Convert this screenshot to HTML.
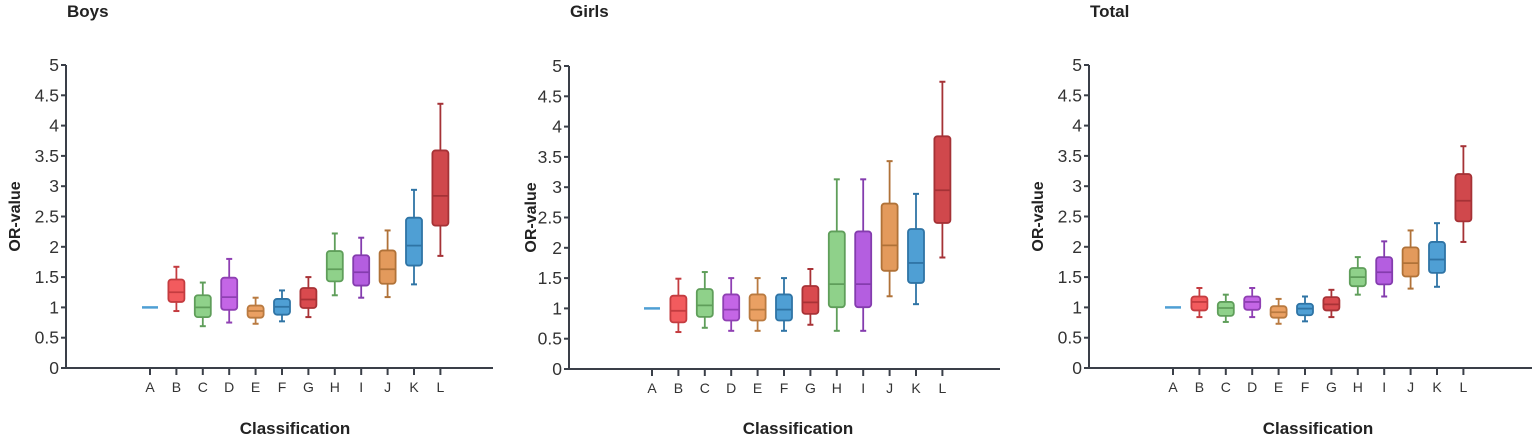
<!DOCTYPE html>
<html><head><meta charset="utf-8"><style>
html,body{margin:0;padding:0;background:#fff;}
svg{display:block;font-family:"Liberation Sans",Arial,sans-serif;}
</style></head><body>
<svg id="c" width="1535" height="440" viewBox="0 0 1535 440"></svg>
<script>
const categories=["A","B","C","D","E","F","G","H","I","J","K","L"];
const yTicks=[0,0.5,1,1.5,2,2.5,3,3.5,4,4.5,5];
const yTickLabels=["0","0.5","1","1.5","2","2.5","3","3.5","4","4.5","5"];
const panelTitles=["Boys","Girls","Total"];
// each entry: [max, q3, median, q1, min]
const boysData=[[1,1,1,1,1],[1.67,1.46,1.25,1.09,0.94],[1.41,1.2,1.0,0.84,0.69],[1.8,1.49,1.17,0.96,0.75],[1.16,1.03,0.94,0.83,0.73],[1.28,1.14,1.01,0.88,0.77],[1.5,1.32,1.13,0.99,0.84],[2.22,1.93,1.63,1.43,1.2],[2.15,1.86,1.58,1.36,1.16],[2.27,1.94,1.63,1.39,1.17],[2.94,2.48,2.02,1.69,1.38],[4.36,3.59,2.84,2.35,1.85]];
const girlsData=[[1,1,1,1,1],[1.49,1.21,0.96,0.77,0.61],[1.6,1.32,1.05,0.86,0.68],[1.5,1.23,0.98,0.8,0.63],[1.5,1.23,0.98,0.8,0.63],[1.5,1.23,0.98,0.8,0.63],[1.65,1.37,1.1,0.91,0.73],[3.13,2.27,1.4,1.02,0.63],[3.13,2.27,1.4,1.02,0.63],[3.43,2.73,2.04,1.62,1.2],[2.89,2.31,1.75,1.42,1.07],[4.74,3.84,2.95,2.41,1.84]];
const totalData=[[1,1,1,1,1],[1.32,1.18,1.09,0.95,0.84],[1.21,1.09,0.99,0.86,0.76],[1.32,1.18,1.09,0.96,0.84],[1.14,1.02,0.92,0.83,0.73],[1.18,1.06,0.98,0.87,0.77],[1.29,1.17,1.05,0.95,0.84],[1.83,1.65,1.5,1.35,1.21],[2.09,1.83,1.58,1.38,1.18],[2.27,1.99,1.73,1.51,1.31],[2.39,2.08,1.79,1.57,1.34],[3.66,3.2,2.76,2.42,2.08]];
const panelData=[boysData,girlsData,totalData];

const fills=["#4f9fd4","#f25b5e","#8fd18a","#c466e6","#eaa063","#4f9fd4","#d94a4e","#8fd18a","#b45ee0","#e39a5c","#4f9fd4","#d0484c"];
const strokes=["#3a86bd","#c43c40","#5f9e5a","#8f40b3","#b97a40","#2f74a5","#a83236","#5f9e5a","#843cae","#b07238","#2f74a5","#a53236"];
const panels=[{ax:66,y0:368,y5:65,a:150,end:493,yt:14},{ax:569,y0:369,y5:66,a:652,end:1000,yt:530},{ax:1089,y0:368,y5:65,a:1173,end:1532,yt:1037}];
const NS="http://www.w3.org/2000/svg";
const svg=document.getElementById("c");
function mk(tag,attrs,parent,text){const e=document.createElementNS(NS,tag);for(const k in attrs)e.setAttribute(k,attrs[k]);if(text!==undefined)e.textContent=text;(parent||svg).appendChild(e);return e;}
const step=26.4;
panels.forEach((p,pi)=>{
  const g=mk("g",{});
  
  
  const y=v=>p.y0-(v/5)*(p.y0-p.y5);
  const x=i=>p.a+i*step;
  const t=mk("text",{x:p.ax+1,y:17,"font-size":"17","font-weight":"bold",fill:"#222"},g,panelTitles[pi]);
  
  
  const yt=mk("text",{transform:`translate(${p.yt+6},${(p.y0+p.y5)/2}) rotate(-90)`,"text-anchor":"middle","font-size":"16","font-weight":"bold",fill:"#222"},g,"OR-value");
  
  
  const xt=mk("text",{x:p.ax+229,y:434,"text-anchor":"middle","font-size":"17","font-weight":"bold",fill:"#222"},g,"Classification");
  
  
  const yax=mk("line",{x1:p.ax,y1:p.y5,x2:p.ax,y2:p.y0+1,stroke:"#3a3f48","stroke-width":2},g);
  
  
  const xax=mk("line",{x1:p.ax-1,y1:p.y0,x2:p.end,y2:p.y0,stroke:"#3a3f48","stroke-width":2},g);
  
  
  yTicks.forEach((v,i)=>{
    mk("line",{x1:p.ax-5,y1:y(v),x2:p.ax,y2:y(v),stroke:"#3a3f48","stroke-width":2},g);
    const l=mk("text",{x:p.ax-7,y:y(v)+6,"text-anchor":"end","font-size":"17.5",fill:"#333"},g,yTickLabels[i]);
    
    
  });
  categories.forEach((c,i)=>{
    mk("line",{x1:x(i),y1:p.y0,x2:x(i),y2:p.y0+7,stroke:"#3a3f48","stroke-width":2},g);
    const l=mk("text",{x:x(i),y:p.y0+24,"text-anchor":"middle","font-size":"14",fill:"#333"},g,c);
    
    
    const d=panelData[pi][i];
    const bg=mk("g",{},g);
    
    
    const cx=x(i),w=16,s=strokes[i];
    if(d[0]===d[4]){
      mk("line",{x1:cx-8,y1:y(d[2]),x2:cx+8,y2:y(d[2]),stroke:fills[i],"stroke-width":2.5},bg);
      return;
    }
    mk("line",{x1:cx,y1:y(d[0]),x2:cx,y2:y(d[4]),stroke:s,"stroke-width":1.8},bg);
    mk("line",{x1:cx-3,y1:y(d[0]),x2:cx+3,y2:y(d[0]),stroke:s,"stroke-width":2},bg);
    mk("line",{x1:cx-3,y1:y(d[4]),x2:cx+3,y2:y(d[4]),stroke:s,"stroke-width":2},bg);
    mk("rect",{x:cx-w/2,y:y(d[1]),width:w,height:Math.max(1,y(d[3])-y(d[1])),rx:3,fill:fills[i],stroke:s,"stroke-width":1.8},bg);
    mk("line",{x1:cx-w/2,y1:y(d[2]),x2:cx+w/2,y2:y(d[2]),stroke:s,"stroke-width":1.8},bg);
  });
});
</script>
</body></html>
